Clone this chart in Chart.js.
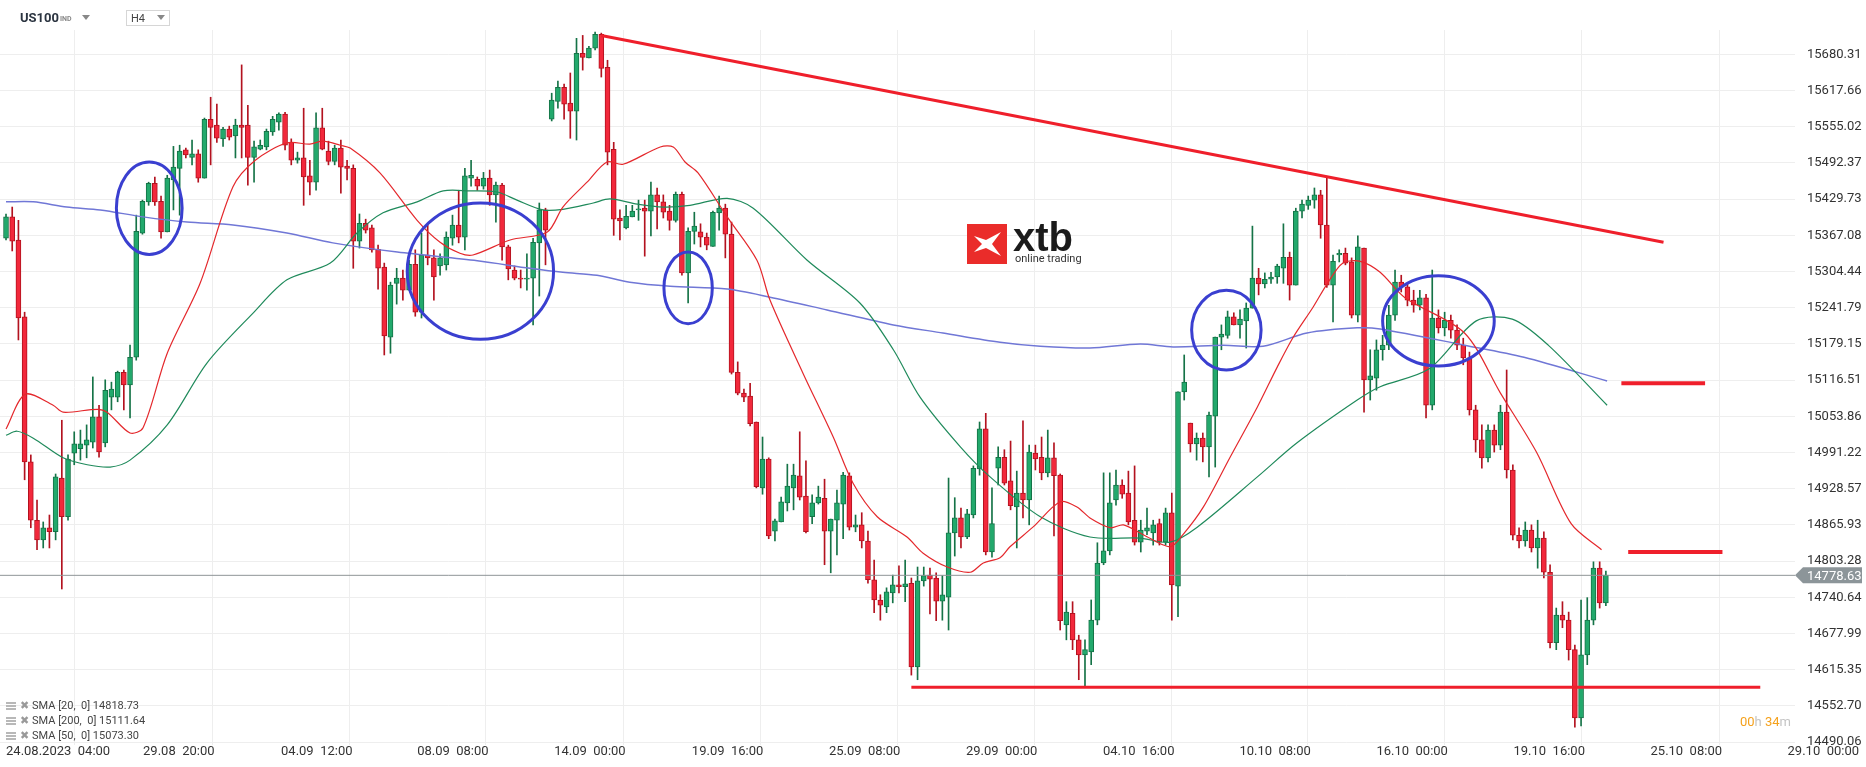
<!DOCTYPE html>
<html>
<head>
<meta charset="utf-8">
<script src="https://cdn.jsdelivr.net/npm/chart.js@4.4.1/dist/chart.umd.min.js"></script>
<style>
  html, body { margin: 0; padding: 0; background: #fff; }
  #wrap { width: 1866px; height: 767px; }
</style>
</head>
<body>
<div id="wrap"><canvas id="chart" width="1866" height="767"></canvas></div>
<script>
// US100 H4 candles, 24.08.2023 - 20.10.2023
const opens = [
  15362,15399,15359,15226,14975,14874,14840,14861,14854,14947,
  14880,14990,14998,15004,15009,15053,15008,15087,15087,15130,
  15108,15156,15371,15425,15457,15426,15373,15463,15483,15515,
  15502,15508,15466,15568,15558,15534,15551,15539,15558,15558,
  15502,15516,15520,15546,15563,15577,15528,15497,15501,15470,
  15459,15553,15513,15495,15518,15487,15483,15357,15388,15380,
  15343,15312,15191,15284,15293,15272,15317,15234,15333,15328,
  15314,15316,15362,15385,15364,15466,15464,15452,15466,15437,
  15454,15347,15307,15293,15291,15293,15354,15411,15568,15599,
  15623,15596,15582,15682,15674,15691,15715,15658,15516,15397,
  15380,15399,15411,15414,15409,15437,15425,15409,15393,15438,
  15302,15374,15373,15364,15348,15406,15414,15369,15130,15094,
  15089,15044,14930,14980,14855,14871,14904,14930,14951,14916,
  14880,14904,14912,14855,14874,14902,14951,14862,14866,14838,
  14771,14736,14724,14748,14762,14759,14765,14620,14769,14779,
  14774,14734,14741,14852,14878,14845,14883,14963,15032,14819,
  14964,14983,14942,14897,14921,14909,14990,14983,14956,14982,
  14952,14693,14713,14667,14641,14646,14701,14800,14821,14909,
  14935,14921,14874,14836,14855,14852,14868,14836,14887,14760,
  15096,15042,15006,15016,15001,15054,15191,15194,15226,15212,
  15219,15241,15293,15283,15291,15295,15310,15329,15281,15409,
  15419,15428,15437,15385,15281,15333,15336,15321,15229,15345,
  15117,15120,15169,15177,15229,15286,15278,15255,15246,15259,
  15073,15224,15207,15220,15203,15177,15155,15065,15013,14982,
  15030,15004,15061,14961,14848,14838,14857,14826,14843,14784,
  14662,14710,14701,14650,14532,14641,14701,14791,14731
];
const closes = [
  15399,15357,15224,14975,14874,14840,14861,14854,14949,14880,
  14980,15006,15006,15013,15053,14992,15099,15101,15130,15108,
  15156,15374,15426,15457,15425,15373,15466,15485,15513,15506,
  15508,15466,15568,15554,15535,15551,15537,15558,15554,15502,
  15520,15523,15547,15568,15577,15523,15497,15501,15468,15459,
  15553,15516,15495,15518,15485,15483,15357,15388,15376,15342,
  15310,15193,15281,15293,15272,15317,15234,15333,15328,15295,
  15328,15364,15385,15364,15470,15471,15452,15466,15437,15454,
  15347,15309,15293,15291,15293,15355,15411,15376,15601,15623,
  15594,15582,15682,15675,15691,15715,15656,15511,15395,15392,
  15400,15409,15412,15409,15437,15425,15407,15393,15438,15302,
  15374,15383,15364,15350,15407,15414,15369,15130,15094,15087,
  15041,14932,14980,14847,14873,14906,14933,14952,14914,14854,
  14904,14914,14855,14876,14904,14952,14862,14866,14838,14771,
  14736,14727,14750,14762,14759,14764,14620,14769,14778,14772,
  14734,14745,14852,14878,14845,14885,14964,15032,14819,14868,
  14983,14938,14899,14921,14909,14992,14980,14956,14982,14951,
  14700,14715,14667,14641,14650,14701,14800,14821,14904,14935,
  14919,14871,14836,14857,14861,14866,14836,14887,14762,15096,
  15113,15006,15016,15001,15056,15191,15196,15226,15212,15222,
  15241,15293,15283,15291,15295,15314,15329,15281,15409,15421,
  15428,15437,15385,15281,15322,15336,15319,15229,15347,15117,
  15124,15169,15177,15229,15286,15278,15255,15246,15259,15073,
  15224,15207,15220,15203,15177,15155,15065,15013,14982,15030,
  15004,15061,14961,14848,14838,14857,14826,14843,14784,14662,
  14710,14701,14650,14532,14641,14701,14791,14731,14779
];
const highs = [
  15404,15416,15393,15234,14987,14909,14871,14883,14954,15047,
  14987,15027,15030,15039,15122,15073,15117,15113,15132,15134,
  15177,15402,15428,15459,15468,15435,15471,15521,15523,15518,
  15532,15515,15570,15606,15594,15554,15556,15568,15662,15592,
  15530,15532,15551,15573,15579,15580,15534,15511,15587,15497,
  15579,15587,15530,15523,15532,15497,15489,15404,15395,15385,
  15350,15319,15286,15310,15307,15324,15342,15371,15385,15342,
  15335,15373,15402,15445,15483,15497,15468,15476,15480,15459,
  15457,15350,15314,15307,15335,15362,15423,15414,15613,15634,
  15629,15648,15708,15713,15694,15719,15717,15670,15528,15411,
  15419,15419,15428,15428,15459,15449,15437,15419,15442,15442,
  15380,15407,15387,15371,15409,15435,15421,15390,15148,15101,
  15111,15044,15018,14982,14876,14914,14971,14971,15027,14977,
  14918,14933,14945,14876,14926,14957,14956,14883,14887,14855,
  14805,14745,14757,14779,14795,14805,14774,14793,14793,14791,
  14783,14778,14947,14913,14895,14893,14968,15044,15059,14930,
  15001,14996,15011,14959,15046,15004,15004,15018,15030,15008,
  14954,14733,14733,14675,14667,14736,14835,14956,14956,14961,
  14944,14959,14968,14874,14895,14874,14876,14895,14921,15096,
  15160,15042,15025,15025,15061,15191,15212,15236,15233,15238,
  15250,15383,15310,15302,15303,15317,15387,15338,15414,15428,
  15435,15449,15445,15468,15333,15342,15345,15328,15366,15345,
  15169,15186,15194,15246,15307,15298,15284,15272,15272,15265,
  15307,15238,15234,15229,15212,15189,15165,15073,15039,15039,
  15039,15073,15134,14970,14861,14871,14866,14874,14854,14797,
  14722,14733,14715,14658,14736,14740,14802,14802,14786
];
const lows = [
  15359,15340,15186,14944,14861,14823,14826,14826,14840,14755,
  14874,14970,14978,14982,14999,14983,15001,15065,15079,15065,
  15051,15151,15369,15419,15419,15362,15373,15411,15402,15501,
  15489,15459,15466,15489,15528,15521,15532,15501,15501,15454,
  15459,15515,15515,15540,15549,15515,15489,15492,15419,15437,
  15445,15515,15489,15489,15440,15463,15310,15345,15371,15338,
  15274,15160,15163,15248,15255,15272,15227,15224,15316,15255,
  15298,15307,15350,15354,15342,15452,15445,15447,15419,15390,
  15324,15290,15290,15276,15272,15212,15262,15316,15565,15587,
  15568,15535,15532,15653,15688,15688,15641,15489,15367,15359,
  15378,15399,15393,15331,15366,15378,15397,15376,15390,15298,
  15250,15352,15347,15342,15348,15376,15328,15127,15091,15079,
  15037,14930,14919,14842,14838,14871,14890,14892,14909,14852,
  14868,14902,14797,14783,14814,14842,14857,14854,14826,14765,
  14714,14701,14714,14731,14748,14733,14606,14598,14760,14712,
  14700,14701,14684,14812,14826,14842,14878,14952,14814,14810,
  14935,14935,14892,14826,14878,14866,14961,14944,14949,14847,
  14684,14667,14650,14598,14586,14624,14693,14797,14814,14900,
  14912,14866,14831,14819,14849,14831,14831,14831,14701,14707,
  15082,14992,14978,14975,14949,14966,15169,15189,15217,15189,
  15172,15241,15264,15276,15284,15284,15284,15255,15281,15397,
  15412,15414,15362,15277,15217,15321,15316,15224,15217,15061,
  15082,15099,15151,15169,15220,15269,15245,15234,15238,15051,
  15065,15198,15193,15189,15169,15143,15056,14992,14964,14975,
  14992,14996,14947,14840,14826,14829,14819,14791,14774,14653,
  14650,14688,14632,14516,14518,14624,14693,14722,14726
];

// moving averages: [bar position, price]
const sma20 = [
  [0,15032],[3.1,15092],[7.6,15073],[9.2,15061],[14.7,15066],[16.3,15061],[20,15025],[22.1,15034],
  [26,15163],[31.3,15284],[36.6,15451],[40.2,15497],[45.3,15527],[49,15525],[51.1,15530],[53.9,15523],
  [55.5,15518],[60.3,15475],[66.3,15393],[70,15355],[73.2,15336],[75.3,15333],[81.3,15359],[87.3,15373],
  [89.8,15416],[93.7,15459],[96.9,15494],[99.5,15490],[105.5,15520],[107.6,15520],[109.5,15494],[111.6,15475],
  [116.3,15399],[121.1,15324],[123.2,15255],[128.5,15129],[133.4,15018],[136.6,14938],[140.5,14880],
  [145.3,14845],[147.9,14817],[151.8,14793],[155.5,14784],[157.6,14800],[160.3,14809],[161.9,14828],
  [165.6,14862],[170,14906],[172.7,14897],[174.8,14878],[178.1,14861],[180.2,14866],[183.4,14849],
  [187.7,14828],[189.8,14849],[193.1,14897],[197.4,14983],[201.8,15070],[205,15139],[207.6,15191],
  [210.8,15243],[213.1,15284],[215.6,15319],[218.4,15322],[221.6,15303],[225.6,15259],[235.2,15198],
  [241,15094],[246.8,14992],[252.4,14868],[257.3,14823]
];
const sma50 = [
  [0,15021],[1.8,15028],[4.4,15016],[9.2,14982],[13.1,14970],[16.8,14966],[20,14978],[26,15039],
  [32.4,15146],[39.8,15232],[45.3,15290],[52.3,15319],[56.6,15371],[60.8,15406],[66.3,15425],[70.5,15444],
  [74.8,15444],[79.2,15442],[82.4,15428],[86.6,15411],[89.8,15412],[94.7,15423],[97.4,15430],[101.8,15421],
  [106,15416],[110.3,15419],[116.3,15431],[120.5,15414],[129.2,15324],[137.7,15250],[143.1,15169],
  [147.4,15087],[153.9,15001],[158.7,14949],[166.8,14880],[174.8,14845],[182.9,14843],[187.7,14836],
  [192.1,14862],[201.8,14949],[208.2,15008],[217.9,15082],[221.6,15105],[229.5,15136],[237.1,15219],
  [242.9,15222],[248.7,15177],[258.2,15073]
];
const sma200 = [
  [0,15425],[4.4,15425],[9.8,15416],[15.2,15411],[22.1,15399],[29.2,15390],[36.6,15385],[45.3,15371],
  [52.7,15354],[63.1,15338],[76,15323],[84.5,15310],[89.8,15303],[95.3,15298],[100.6,15286],[107.1,15279],
  [116.3,15274],[123.2,15260],[132.4,15238],[143.1,15212],[151.1,15198],[160.3,15182],[166.8,15175],
  [174.8,15172],[182.9,15179],[188.2,15174],[196.3,15177],[202.7,15175],[209.8,15198],[217.9,15207],
  [221.6,15205],[235.2,15177],[244.8,15156],[258.2,15115]
];

const timeTicks = [0, 22.1, 44.35, 66.3, 88.4, 110.6, 132.7, 154.8, 176.9, 198.9, 221.0, 243.1, 265.2, 287.3];
const timeLabels = ["24.08.2023  04:00", "29.08  20:00", "04.09  12:00", "08.09  08:00", "14.09  00:00",
  "19.09  16:00", "25.09  08:00", "29.09  00:00", "04.10  16:00", "10.10  08:00", "16.10  00:00",
  "19.10  16:00", "25.10  08:00", "29.10  00:00"];
const priceTicks = [15680.31, 15617.66, 15555.02, 15492.37, 15429.73, 15367.08, 15304.44, 15241.79,
  15179.15, 15116.51, 15053.86, 14991.22, 14928.57, 14865.93, 14803.28, 14740.64, 14677.99,
  14615.35, 14552.70, 14490.06];
const lastPrice = 14778.63;

// drawings on the chart: [x1, price1, x2, price2]
const redLines = [
  [96.0, 15713, 267.3, 15355, 3],
  [146.0, 14585, 282.9, 14585, 3],
  [260.5, 15111, 274.0, 15111, 4],
  [261.6, 14819, 276.8, 14819, 4]
];
// ellipses: [centre bar, centre price, half width in bars, half height in points]
const circles = [
  [23.1, 15414, 5.3, 80],
  [76.5, 15305, 11.8, 118],
  [110.0, 15276, 3.9, 62],
  [196.8, 15203, 5.6, 69],
  [231.0, 15219, 9.0, 78]
];
const legendRows = [
  ["SMA [20,  0] 14818.73"],
  ["SMA [200,  0] 15111.64"],
  ["SMA [50,  0] 15073.30"]
];

const UP = "#22a96c", UP_EDGE = "#157347";
const DOWN = "#f2283b", DOWN_EDGE = "#b3121f";
const FONT = "Roboto, 'Liberation Sans', sans-serif";

const isUp = opens.map((o, i) => closes[i] >= o);
const bodies = opens.map((o, i) => ({ x: i, y: [Math.min(o, closes[i]), Math.max(o, closes[i])] }));
const wicks = opens.map((o, i) => ({
  x: i,
  y: [Math.min(lows[i], o, closes[i]), Math.max(highs[i], o, closes[i])]
}));

function toPoints(list) {
  return list.map(([x, y]) => ({ x, y }));
}

const overlayPlugin = {
  id: "overlay",
  beforeDraw(chart) {
    const ctx = chart.ctx;
    ctx.save();
    ctx.fillStyle = "#fff";
    ctx.fillRect(0, 0, chart.width, chart.height);
    ctx.restore();
  },
  afterDatasetsDraw(chart) {
    const { ctx, chartArea } = chart;
    const xs = chart.scales.x, ys = chart.scales.y;
    ctx.save();

    // last price line
    const ly = ys.getPixelForValue(lastPrice);
    ctx.strokeStyle = "#8f9597";
    ctx.lineWidth = 1;
    ctx.beginPath();
    ctx.moveTo(chartArea.left, ly);
    ctx.lineTo(chartArea.right, ly);
    ctx.stroke();

    // red trend lines
    ctx.strokeStyle = "#ef1f2b";
    ctx.lineCap = "butt";
    redLines.forEach(([x1, p1, x2, p2, w]) => {
      ctx.lineWidth = w;
      ctx.beginPath();
      ctx.moveTo(xs.getPixelForValue(x1), ys.getPixelForValue(p1));
      ctx.lineTo(xs.getPixelForValue(x2), ys.getPixelForValue(p2));
      ctx.stroke();
    });

    // blue circles
    ctx.strokeStyle = "#3a3fd0";
    ctx.lineWidth = 3;
    circles.forEach(([cx, cp, rx, ry]) => {
      const px = xs.getPixelForValue(cx), py = ys.getPixelForValue(cp);
      const rpx = Math.abs(xs.getPixelForValue(cx + rx) - px);
      const rpy = Math.abs(ys.getPixelForValue(cp + ry) - py);
      ctx.beginPath();
      ctx.ellipse(px, py, rpx, rpy, 0, 0, Math.PI * 2);
      ctx.stroke();
    });

    // x axis labels
    ctx.fillStyle = "#333";
    ctx.font = "13px " + FONT;
    ctx.textBaseline = "middle";
    ctx.textAlign = "left";
    timeTicks.forEach((t, i) => {
      ctx.fillText(timeLabels[i], xs.getPixelForValue(t), 752);
    });

    // last price tag
    const bx = chartArea.right;
    ctx.fillStyle = "#8c9599";
    ctx.beginPath();
    ctx.moveTo(bx, ly);
    ctx.lineTo(bx + 8, ly - 8);
    ctx.lineTo(1862, ly - 8);
    ctx.lineTo(1862, ly + 8);
    ctx.lineTo(bx + 8, ly + 8);
    ctx.closePath();
    ctx.fill();
    ctx.fillStyle = "#fff";
    ctx.font = "13px " + FONT;
    ctx.fillText(lastPrice.toFixed(2), bx + 12, ly + 1);

    // timer
    let tx = 1740;
    [["00", "#f5a11c"], ["h ", "#c4c4c4"], ["34", "#f5a11c"], ["m", "#c4c4c4"]].forEach(([s, c]) => {
      ctx.fillStyle = c;
      ctx.fillText(s, tx, 723);
      tx += ctx.measureText(s).width;
    });

    // indicator legend
    ctx.font = "11px " + FONT;
    legendRows.forEach(([txt], i) => {
      const y = 706 + i * 15;
      ctx.fillStyle = "#b8b8b8";
      ctx.fillRect(6, y - 4, 10, 2);
      ctx.fillRect(6, y - 1, 10, 2);
      ctx.fillRect(6, y + 2, 10, 2);
      ctx.fillStyle = "#9a9a9a";
      ctx.fillText("✖", 20, y);
      ctx.fillStyle = "#444";
      ctx.fillText(txt, 32, y);
    });

    // header
    ctx.fillStyle = "#2b3440";
    ctx.font = "bold 13px " + FONT;
    ctx.fillText("US100", 20, 19);
    ctx.fillStyle = "#888";
    ctx.font = "bold 7px " + FONT;
    ctx.fillText("IND", 60, 19);
    ctx.beginPath();
    ctx.moveTo(82, 15); ctx.lineTo(90, 15); ctx.lineTo(86, 20); ctx.closePath();
    ctx.fill();
    ctx.strokeStyle = "#d6d6d6";
    ctx.lineWidth = 1;
    ctx.strokeRect(126.5, 10.5, 43, 15);
    ctx.fillStyle = "#444";
    ctx.font = "11px " + FONT;
    ctx.fillText("H4", 131, 19);
    ctx.fillStyle = "#888";
    ctx.beginPath();
    ctx.moveTo(157, 15); ctx.lineTo(165, 15); ctx.lineTo(161, 20); ctx.closePath();
    ctx.fill();

    // xtb logo
    ctx.fillStyle = "#ea2c2a";
    ctx.fillRect(967, 224, 40, 40);
    ctx.fillStyle = "#fff";
    ctx.beginPath();
    ctx.moveTo(974, 236); ctx.lineTo(986, 240); ctx.lineTo(1001, 232); ctx.lineTo(992, 244);
    ctx.lineTo(1001, 256); ctx.lineTo(986, 248); ctx.lineTo(974, 252); ctx.lineTo(982, 244);
    ctx.closePath();
    ctx.fill();
    ctx.fillStyle = "#1b1b1b";
    ctx.font = "bold 40px 'Liberation Sans', Arial, sans-serif";
    ctx.textBaseline = "alphabetic";
    ctx.fillText("xtb", 1013, 251);
    ctx.fillStyle = "#333";
    ctx.font = "11px " + FONT;
    ctx.fillText("online trading", 1015, 262);

    ctx.restore();
  }
};

new Chart(document.getElementById("chart"), {
  type: "bar",
  data: {
    datasets: [
      {
        type: "line", label: "SMA20", data: toPoints(sma20), order: 0,
        borderColor: "#e4282c", borderWidth: 1.2, pointRadius: 0, tension: 0.3
      },
      {
        type: "line", label: "SMA50", data: toPoints(sma50), order: 0,
        borderColor: "#1f8a5b", borderWidth: 1.2, pointRadius: 0, tension: 0.3
      },
      {
        type: "line", label: "SMA200", data: toPoints(sma200), order: 0,
        borderColor: "#7077d6", borderWidth: 1.5, pointRadius: 0, tension: 0.3
      },
      {
        label: "wicks", data: wicks, order: 2, grouped: false,
        barThickness: 1, backgroundColor: isUp.map(u => u ? UP_EDGE : DOWN_EDGE)
      },
      {
        label: "bodies", data: bodies, order: 1, grouped: false,
        barThickness: 5, minBarLength: 1, borderWidth: 1, borderSkipped: false,
        backgroundColor: isUp.map(u => u ? UP : DOWN),
        borderColor: isUp.map(u => u ? UP_EDGE : DOWN_EDGE)
      }
    ]
  },
  options: {
    responsive: false,
    animation: false,
    devicePixelRatio: 1,
    layout: { padding: { top: 30, left: 0, right: 0, bottom: 0 } },
    plugins: { legend: { display: false }, tooltip: { enabled: false } },
    scales: {
      x: {
        type: "linear",
        min: -0.97,
        max: 288.5,
        offset: false,
        grid: { color: "#eeeeee", drawTicks: false },
        border: { display: false },
        ticks: { display: false },
        afterBuildTicks: (scale) => { scale.ticks = timeTicks.map(v => ({ value: v })); },
        afterFit: (scale) => { scale.height = 22; }
      },
      y: {
        position: "right",
        min: 14485,
        max: 15722.4,
        grid: { color: "#eeeeee", drawTicks: false },
        border: { display: false },
        ticks: {
          color: "#333",
          font: { size: 13, family: FONT },
          padding: 12,
          callback: (v) => Number(v).toFixed(2)
        },
        afterBuildTicks: (scale) => { scale.ticks = priceTicks.map(v => ({ value: v })); },
        afterFit: (scale) => { scale.width = 71; }
      }
    }
  },
  plugins: [overlayPlugin]
});
</script>
</body>
</html>
